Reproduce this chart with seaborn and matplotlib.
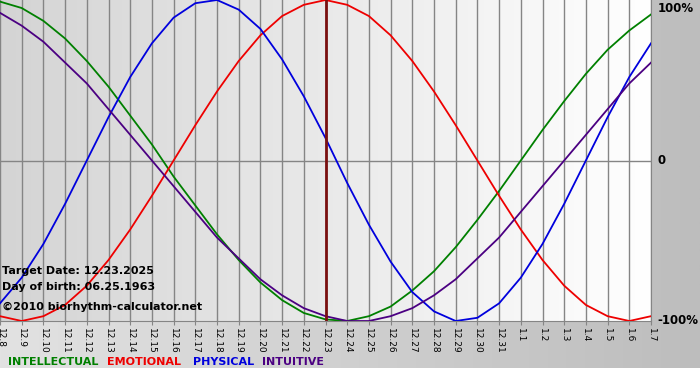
#!/usr/bin/env python3

"""Biorhythm chart around a target date, drawn with seaborn"""

import numpy as np
import pandas as pd
import seaborn as sns
import matplotlib.pyplot as plt
from matplotlib.colors import LinearSegmentedColormap

####################################################################################################
# DATA #

dates = ["12.8", "12.9", "12.10", "12.11", "12.12", "12.13", "12.14", "12.15", "12.16", "12.17",
         "12.18", "12.19", "12.20", "12.21", "12.22", "12.23", "12.24", "12.25", "12.26", "12.27",
         "12.28", "12.29", "12.30", "12.31", "1.1", "1.2", "1.3", "1.4", "1.5", "1.6", "1.7"]

intellectual = [0.99, 0.95, 0.87, 0.76, 0.62, 0.46, 0.28, 0.10, -0.10, -0.28,
                -0.46, -0.62, -0.76, -0.87, -0.95, -0.99, -1.00, -0.97, -0.91, -0.81,
                -0.69, -0.54, -0.37, -0.19, 0.00, 0.19, 0.37, 0.54, 0.69, 0.81, 0.91]

emotional = [-0.97, -1.00, -0.97, -0.90, -0.78, -0.62, -0.43, -0.22, 0.00, 0.22,
             0.43, 0.62, 0.78, 0.90, 0.97, 1.00, 0.97, 0.90, 0.78, 0.62,
             0.43, 0.22, 0.00, -0.22, -0.43, -0.62, -0.78, -0.90, -0.97, -1.00, -0.97]

physical = [-0.89, -0.73, -0.52, -0.27, 0.00, 0.27, 0.52, 0.73, 0.89, 0.98,
            1.00, 0.94, 0.82, 0.63, 0.40, 0.14, -0.14, -0.40, -0.63, -0.82,
            -0.94, -1.00, -0.98, -0.89, -0.73, -0.52, -0.27, 0.00, 0.27, 0.52, 0.73]

intuitive = [0.92, 0.84, 0.74, 0.61, 0.48, 0.32, 0.16, 0.00, -0.16, -0.32,
             -0.48, -0.61, -0.74, -0.84, -0.92, -0.97, -1.00, -1.00, -0.97, -0.92,
             -0.84, -0.74, -0.61, -0.48, -0.32, -0.16, 0.00, 0.16, 0.32, 0.48, 0.61]

target_date = "12.23"
target_text = "Target Date: 12.23.2025"
birth_text = "Day of birth: 06.25.1963"
copyright_text = "\u00a92010 biorhythm-calculator.net"

cycle_names = ["INTELLECTUAL", "EMOTIONAL", "PHYSICAL", "INTUITIVE"]
cycle_colors = ["#008000", "#ee0000", "#0000dd", "#4b0082"]

####################################################################################################

# BUILD LONG TABLE FOR SEABORN
day_idx = np.arange(len(dates))
frames = []
for name, vals in zip(cycle_names, [intellectual, emotional, physical, intuitive]):
    frames.append(pd.DataFrame({"day": day_idx, "value": vals, "cycle": name}))
df = pd.concat(frames, ignore_index=True)

plt.rcParams["font.family"] = ["DejaVu Sans"]

fig = plt.figure(figsize=(7, 3.8), dpi=100)
fig.patch.set_facecolor("white")

# grey panel behind everything (white strip left at the very bottom)
bg = fig.add_axes([0, 12 / 380, 1, 368 / 380])
bg.imshow(np.linspace(0, 1, 256).reshape(1, -1), aspect="auto", extent=[0, 1, 0, 1],
          cmap=LinearSegmentedColormap.from_list("bg", ["#e2e2e2", "#bdbdbd"]))
bg.set_axis_off()

ax = fig.add_axes([0, 59 / 380, 651 / 700, 321 / 380])

# light gradient in the plot area
ax.imshow(np.linspace(0, 1, 256).reshape(1, -1), aspect="auto", extent=[0, len(dates) - 1, -1, 1],
          cmap=LinearSegmentedColormap.from_list("plot", ["#d4d4d4", "#ffffff"]), zorder=0)

# day grid lines and zero line
for i in day_idx:
    ax.axvline(i, color="#858585", lw=1, zorder=1)
ax.axhline(0, color="#858585", lw=1, zorder=1)

sns.lineplot(data=df, x="day", y="value", hue="cycle", hue_order=cycle_names,
             palette=cycle_colors, linewidth=1.3, legend=False, ax=ax, zorder=3)

ax.axvline(dates.index(target_date), color="#7a1010", lw=2, zorder=4)

ax.set_xlim(0, len(dates) - 1)
ax.set_ylim(-1, 1)
ax.set_xlabel("")
ax.set_ylabel("")
ax.set_xticks(day_idx)
ax.set_xticklabels(dates, rotation=-90, fontsize=6.5, va="top", ha="center")
ax.tick_params(axis="x", length=3, color="#858585", pad=2)
ax.set_yticks([])
for side in ["left", "top"]:
    ax.spines[side].set_visible(False)
for side in ["right", "bottom"]:
    ax.spines[side].set_color("#858585")

# right hand percent labels
ax.text(1.01, 0.975, "100%", transform=ax.transAxes, fontsize=8.5, fontweight="bold", va="center")
ax.text(1.01, 0.5, "0", transform=ax.transAxes, fontsize=8.5, fontweight="bold", va="center")
ax.text(1.01, 0.0, "-100%", transform=ax.transAxes, fontsize=8.5, fontweight="bold", va="center")

# info text in the lower left
fig.text(2 / 700, 1 - 271 / 380, target_text, fontsize=8, fontweight="bold", va="center")
fig.text(2 / 700, 1 - 287 / 380, birth_text, fontsize=8, fontweight="bold", va="center")
fig.text(2 / 700, 1 - 307 / 380, copyright_text, fontsize=8, fontweight="bold", va="center")

# coloured legend words at the bottom
legend_x = [8, 107, 193, 262]
for name, col, x in zip(cycle_names, cycle_colors, legend_x):
    fig.text(x / 700, 1 - 362 / 380, name, color=col, fontsize=8, fontweight="bold", va="center")

fig.savefig("out.png", dpi=100)
